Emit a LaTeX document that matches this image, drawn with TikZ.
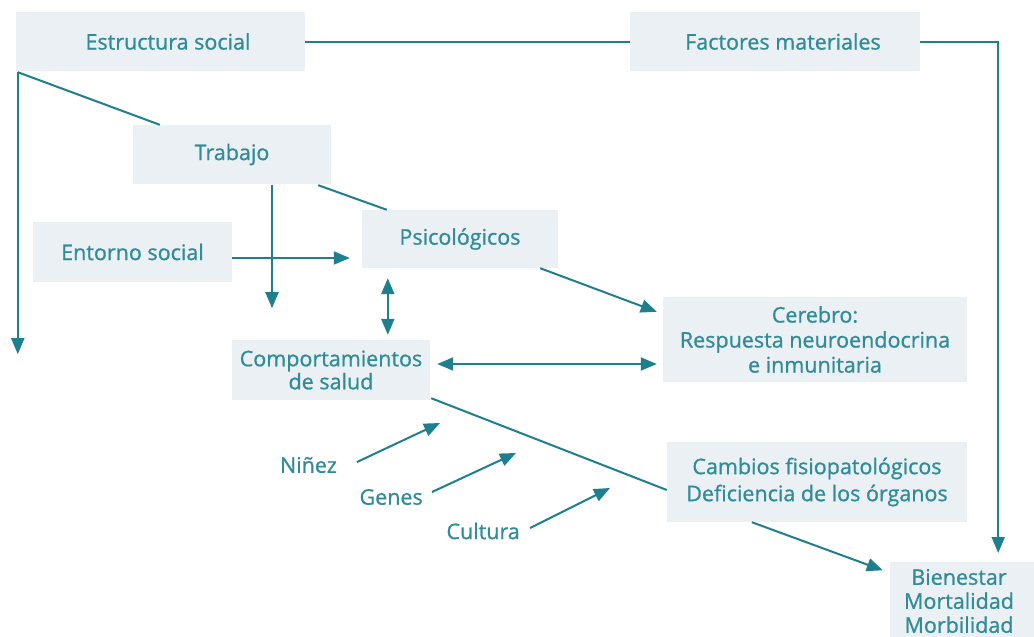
\documentclass[tikz,border=0pt]{standalone}
\usepackage{fontspec}
\setmainfont{Open Sans}[BoldFont={Open Sans}, BoldFeatures={FakeBold=0.9}]
\usetikzlibrary{arrows.meta,calc}
\definecolor{lineteal}{RGB}{30,128,143}
\definecolor{txtteal}{RGB}{48,140,152}
\definecolor{boxfill}{RGB}{234,240,243}
\begin{document}
\begin{tikzpicture}[x=1pt,y=-1pt,
  font=\fontsize{21.5}{25}\selectfont\bfseries,
  box/.style={fill=boxfill, inner sep=0pt, align=center, text=txtteal},
  lbl/.style={inner sep=0pt, text=txtteal},
  conn/.style={draw=lineteal, line width=2pt},
  arr/.style={conn, -{Triangle[length=16pt,width=13pt]}},
  darr/.style={conn, {Triangle[length=16pt,width=13pt]}-{Triangle[length=16pt,width=13pt]}}]
\fill[white] (0,0) rectangle (1034,637);
\useasboundingbox (0,0) rectangle (1034,637);

\node[box, minimum width=289pt, minimum height=59pt] (E) at (160.5,41.5) {\hspace*{15pt}Estructura social};
\node[box, minimum width=290pt, minimum height=59pt] (F) at (775,41.5) {\hspace*{16pt}Factores materiales};
\node[box, minimum width=198pt, minimum height=59pt] (T) at (232,154.5) {Trabajo};
\node[box, minimum width=199pt, minimum height=60pt] (EN) at (132.5,252) {Entorno social};
\node[box, minimum width=196pt, minimum height=58pt] (P) at (460,239) {Psicológicos};
\node[box, minimum width=198pt, minimum height=60pt, font=\fontsize{21.5}{23}\selectfont\bfseries] (C) at (331,370) {Comportamientos\\de salud};
\node[box, minimum width=304pt, minimum height=85pt] (CE) at (815,339.5) {Cerebro:\\Respuesta neuroendocrina\\e inmunitaria};
\node[box, minimum width=300pt, minimum height=80pt, font=\fontsize{21.5}{27}\selectfont\bfseries] (CA) at (817,482) {Cambios fisiopatológicos\\Deficiencia de los órganos};
\node[box, minimum width=150pt, minimum height=84pt] (B) at (965,604) {};
\node[lbl, align=center, font=\fontsize{21.5}{24}\selectfont\bfseries] (BT) at (959,601) {Bienestar\\Mortalidad\\Morbilidad};

\node[lbl, anchor=east] (N) at (337,465) {Niñez};
\node[lbl, anchor=east] (G) at (423,497) {Genes};
\node[lbl, anchor=east] (CU) at (520,531) {Cultura};

% connectors
\coordinate (Eleft) at ($(E.south west)+(2,1)$);
\coordinate (leftend) at ($(Eleft)+(0,282)$);
\coordinate (rightend) at ($(F.east)+(78,511.5)$);
\draw[conn] (E.east) -- (F.west);
\draw[arr] (F.east) -| (rightend);
\draw[arr] (Eleft) -- (leftend);
\draw[conn] (Eleft) -- ($(T.north west)+(27,0)$);
\draw[conn] ($(T.south east)+(-13,1)$) -- ($(P.north west)+(25,0)$);
\coordinate (tdown) at ($(T.south)+(40,124)$);
\draw[arr] ($(T.south)+(40,1)$) -- (tdown);
\draw[arr] ($(EN.east)+(0,6)$) -- ($(P.west)+(-12,19)$);
\draw[darr] ($(P.south west)+(26,10)$) -- ($(C.north west)+(156,-5)$);
\draw[darr] ($(C.east)+(7,-6)$) -- ($(CE.west)+(-6,24.5)$);
\draw[arr] ($(P.south east)+(-18,0)$) -- ($(CE.north west)+(-6,15)$);
\draw[conn] ($(C.south east)+(1,-2)$) -- ($(CA.west)+(0,8)$);
\draw[arr] ($(CA.south west)+(85,0)$) -- ($(B.north west)+(-7,8.5)$);
\draw[arr] ($(N.east)+(20,-3)$) -- ++(83,-39);
\draw[arr] ($(G.east)+(9,-5)$) -- ++(84,-39);
\draw[arr] ($(CU.east)+(10,-3)$) -- ++(80,-40);
\end{tikzpicture}
\end{document}
